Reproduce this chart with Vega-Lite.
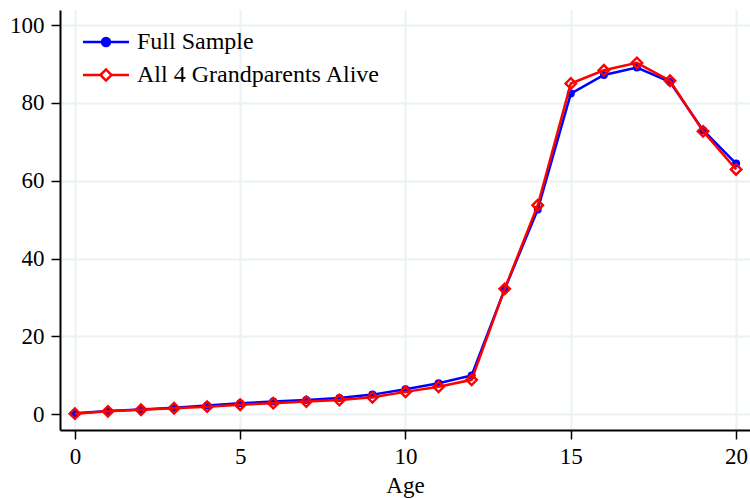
{
  "$schema": "https://vega.github.io/schema/vega-lite/v6.json",
  "width": 690,
  "height": 420,
  "autosize": {"type": "none"},
  "padding": {"left": 60, "top": 10, "right": 0, "bottom": 69},
  "background": "white",
  "config": {
    "view": {"stroke": null},
    "font": "Liberation Serif",
    "axis": {
      "labelFont": "Liberation Serif", "titleFont": "Liberation Serif",
      "labelFontSize": 23, "titleFontSize": 23, "labelColor": "black", "titleColor": "black",
      "titleFontWeight": "normal", "domainColor": "black", "domainWidth": 2,
      "tickColor": "black", "tickWidth": 1.5, "tickSize": 9,
      "gridColor": "#eaf2f3", "gridWidth": 2
    },
    "legend": {"labelFont": "Liberation Serif", "labelFontSize": 24, "labelColor": "black", "labelLimit": 0}
  },
  "data": {"values": [
    {"age": 0, "series": "Full Sample", "value": 0.2},
    {"age": 1, "series": "Full Sample", "value": 0.8},
    {"age": 2, "series": "Full Sample", "value": 1.2},
    {"age": 3, "series": "Full Sample", "value": 1.6},
    {"age": 4, "series": "Full Sample", "value": 2.2},
    {"age": 5, "series": "Full Sample", "value": 2.8},
    {"age": 6, "series": "Full Sample", "value": 3.2},
    {"age": 7, "series": "Full Sample", "value": 3.6},
    {"age": 8, "series": "Full Sample", "value": 4.1},
    {"age": 9, "series": "Full Sample", "value": 5.0},
    {"age": 10, "series": "Full Sample", "value": 6.4},
    {"age": 11, "series": "Full Sample", "value": 7.9},
    {"age": 12, "series": "Full Sample", "value": 9.9},
    {"age": 13, "series": "Full Sample", "value": 32.1},
    {"age": 14, "series": "Full Sample", "value": 52.6},
    {"age": 15, "series": "Full Sample", "value": 82.4},
    {"age": 16, "series": "Full Sample", "value": 87.2},
    {"age": 17, "series": "Full Sample", "value": 89.1},
    {"age": 18, "series": "Full Sample", "value": 85.4},
    {"age": 19, "series": "Full Sample", "value": 73.0},
    {"age": 20, "series": "Full Sample", "value": 64.4},
    {"age": 0, "series": "All 4 Grandparents Alive", "value": 0.1},
    {"age": 1, "series": "All 4 Grandparents Alive", "value": 0.7},
    {"age": 2, "series": "All 4 Grandparents Alive", "value": 1.1},
    {"age": 3, "series": "All 4 Grandparents Alive", "value": 1.5},
    {"age": 4, "series": "All 4 Grandparents Alive", "value": 1.9},
    {"age": 5, "series": "All 4 Grandparents Alive", "value": 2.4},
    {"age": 6, "series": "All 4 Grandparents Alive", "value": 2.8},
    {"age": 7, "series": "All 4 Grandparents Alive", "value": 3.2},
    {"age": 8, "series": "All 4 Grandparents Alive", "value": 3.6},
    {"age": 9, "series": "All 4 Grandparents Alive", "value": 4.3},
    {"age": 10, "series": "All 4 Grandparents Alive", "value": 5.7},
    {"age": 11, "series": "All 4 Grandparents Alive", "value": 7.0},
    {"age": 12, "series": "All 4 Grandparents Alive", "value": 8.8},
    {"age": 13, "series": "All 4 Grandparents Alive", "value": 32.2},
    {"age": 14, "series": "All 4 Grandparents Alive", "value": 53.7},
    {"age": 15, "series": "All 4 Grandparents Alive", "value": 85.0},
    {"age": 16, "series": "All 4 Grandparents Alive", "value": 88.4},
    {"age": 17, "series": "All 4 Grandparents Alive", "value": 90.3},
    {"age": 18, "series": "All 4 Grandparents Alive", "value": 85.7},
    {"age": 19, "series": "All 4 Grandparents Alive", "value": 72.7},
    {"age": 20, "series": "All 4 Grandparents Alive", "value": 62.9}
  ]},
  "encoding": {
    "x": {"field": "age", "type": "quantitative",
      "scale": {"domain": [-0.45, 20.42], "nice": false, "zero": false},
      "axis": {"values": [0, 5, 10, 15, 20], "title": "Age", "labelPadding": 6, "titlePadding": 6, "labelFlush": false}},
    "y": {"field": "value", "type": "quantitative",
      "scale": {"domain": [-4.1, 103.9], "nice": false, "zero": false},
      "axis": {"values": [0, 20, 40, 60, 80, 100], "title": null, "labelPadding": 7}},
    "color": {"field": "series", "type": "nominal",
      "scale": {"domain": ["Full Sample", "All 4 Grandparents Alive"], "range": ["#0000ff", "#ff0000"]},
      "legend": {
        "title": null, "orient": "none", "legendX": 34, "legendY": 20,
        "padding": 0, "rowPadding": 9, "labelOffset": 19, "symbolSize": 256,
        "symbolStrokeWidth": 2.5, "direction": "vertical",
        "encode": {"symbols": {"update": {
          "shape": {"signal": "datum.value === 'Full Sample' ? 'M-2.875,0H2.875M-0.5,0A0.5,0.5 0 1,0 0.5,0A0.5,0.5 0 1,0 -0.5,0Z' : 'M-2.875,0H-0.69M0.69,0H2.875M-0.69,0L0,-0.69L0.69,0L0,0.69Z'"},
          "fill": {"signal": "datum.value === 'Full Sample' ? '#0000ff' : '#ffffff'"},
          "fillOpacity": {"signal": "datum.value === 'Full Sample' ? 1 : 0"},
          "stroke": {"signal": "datum.value === 'Full Sample' ? '#0000ff' : '#ff0000'"},
          "strokeWidth": {"value": 2.5},
          "opacity": {"value": 1}
        }}}
      }}
  },
  "layer": [
    {"transform": [{"filter": "datum.series === 'Full Sample'"}],
     "mark": {"type": "line", "strokeWidth": 2.5}},
    {"transform": [{"filter": "datum.series === 'Full Sample'"}],
     "mark": {"type": "point", "shape": "circle", "filled": true, "size": 64, "opacity": 1}},
    {"transform": [{"filter": "datum.series === 'All 4 Grandparents Alive'"}],
     "mark": {"type": "line", "strokeWidth": 2.5}},
    {"transform": [{"filter": "datum.series === 'All 4 Grandparents Alive'"}],
     "mark": {"type": "point", "shape": "diamond", "filled": false, "size": 110, "strokeWidth": 2.4, "opacity": 1}}
  ]
}
